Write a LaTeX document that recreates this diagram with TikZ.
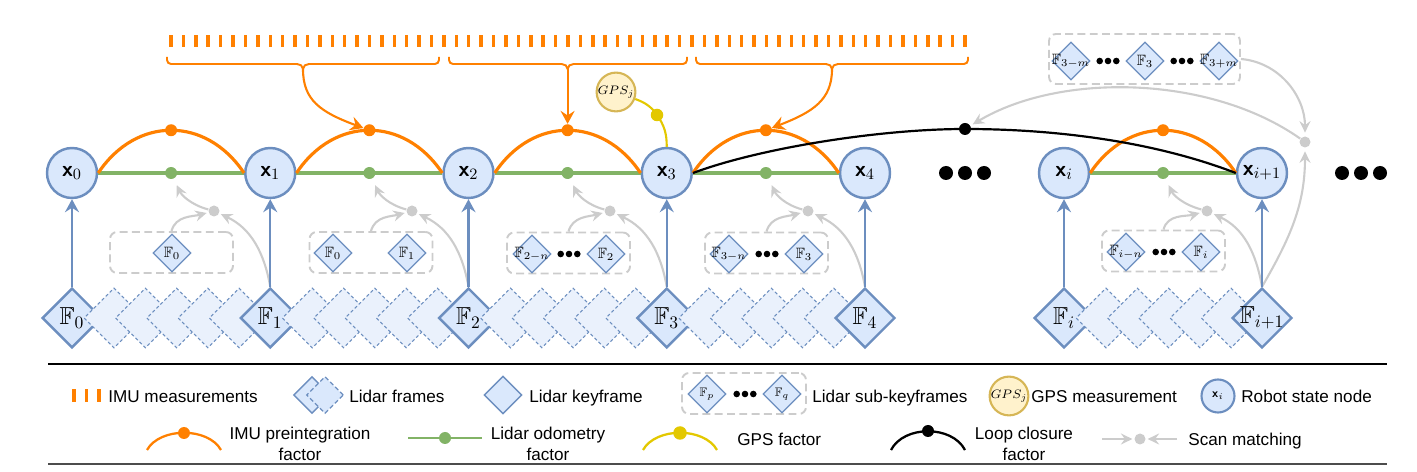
\documentclass[tikz,border=0pt]{standalone}
\usepackage{amsmath,amssymb}
\usepackage{fontspec}
\newfontfamily\lsans{Liberation Sans}
\usetikzlibrary{arrows.meta,shapes.geometric}
\definecolor{nblue}{HTML}{6C8EBF}
\definecolor{nfill}{HTML}{DAE8FC}
\definecolor{ffill}{HTML}{EAF1FC}
\definecolor{oran}{HTML}{FF8000}
\definecolor{grn}{HTML}{82B366}
\definecolor{gpsfill}{HTML}{FFF2CC}
\definecolor{gpsdraw}{HTML}{D6B656}
\definecolor{ylw}{HTML}{E3C800}
\definecolor{sgray}{HTML}{CCCCCC}
\newcommand{\tdots}[4]{\foreach \q in {-1,0,1}{\fill ({#1+\q*#4},#2) circle[radius=#3];}}
\newcommand{\imubrace}[3]{\draw[obr] (#1,57) -- (#1,60) to[out=-90,in=180] ({#1+4},64) -- ({#2-6},64) to[out=0,in=90] (#2,69) to[out=90,in=180] ({#2+6},64) -- ({#3-4},64) to[out=0,in=-90] (#3,60) -- (#3,57);}
\tikzset{
 st/.style={circle,draw=nblue,fill=nfill,line width=1.4pt,minimum size=1cm,inner sep=0pt,font=\fontsize{12.5}{14}\selectfont},
 kf/.style={diamond,draw=nblue,fill=nfill,line width=1.4pt,minimum width=1.2cm,minimum height=1.2cm,inner sep=0pt},
 kl/.style={font=\fontsize{14}{16}\selectfont,inner sep=0pt},
 fr/.style={diamond,draw=nblue,fill=ffill,line width=0.6pt,dash pattern=on 1.8pt off 1.4pt,minimum width=1.2cm,minimum height=1.2cm,inner sep=0pt},
 sk/.style={diamond,draw=nblue,fill=nfill,line width=0.7pt,minimum width=0.76cm,minimum height=0.76cm,inner sep=0pt},
 sl/.style={font=\fontsize{8.5}{9}\selectfont,inner sep=0pt},
 sbox/.style={draw=sgray,line width=1.1pt,dash pattern=on 4.5pt off 2.5pt,rounded corners=4pt,minimum width=2.46cm,minimum height=0.82cm,inner sep=0pt},
 odot/.style={circle,fill=oran,minimum size=0.24cm,inner sep=0pt},
 gdot/.style={circle,fill=grn,minimum size=0.24cm,inner sep=0pt},
 ydot/.style={circle,fill=ylw,minimum size=0.25cm,inner sep=0pt},
 kdot/.style={circle,fill=black,minimum size=0.24cm,inner sep=0pt},
 sdot/.style={circle,fill=sgray,minimum size=0.22cm,inner sep=0pt},
 gline/.style={draw=grn,line width=1.8pt},
 oarc/.style={draw=oran,line width=1.8pt},
 lcl/.style={draw=black,line width=1.25pt},
 yl/.style={draw=ylw,line width=1.2pt},
 sarr/.style={draw=sgray,line width=1.2pt,-{Stealth[length=2.3mm,width=2.2mm,inset=0.8mm]}},
 barr/.style={draw=nblue,line width=1.3pt,-{Stealth[length=2.6mm,width=2.8mm,inset=0.9mm]}},
 oarr/.style={draw=oran,line width=1.2pt,-{Stealth[length=2.6mm,width=2.8mm,inset=0.9mm]}},
 obr/.style={draw=oran,line width=1.1pt},
 gpsn/.style={circle,draw=gpsdraw,fill=gpsfill,line width=1.2pt,minimum size=0.64cm,inner sep=0pt,font=\fontsize{7}{8}\selectfont},
 lt/.style={font=\lsans\fontsize{9.75}{11.9}\selectfont,inner sep=0pt},
}
\begin{document}
\begin{tikzpicture}[x=0.02cm,y=-0.02cm]
\useasboundingbox (0,0) rectangle (1417,472);

% IMU ticks
\foreach \i in {0,...,64}{\fill[oran] ({169.25+\i*12.406},35) rectangle ++(3.5,12);}
\imubrace{167}{303}{439}
\imubrace{449}{567.6}{687}
\imubrace{696}{832}{968}
\coordinate (b1) at (303,69);
\coordinate (b2) at (567.6,69);
\coordinate (b3) at (832,69);

% keyframes and frames
\node[kf,label={[kl]center:$\mathbb{F}_0$}] (F0) at (72,318) {};
\foreach \k in {0,...,4}{\node[fr] (d0-\k) at ({72+42+\k*31.3},318) {};}
\node[kf,label={[kl]center:$\mathbb{F}_1$}] (F1) at (270.25,318) {};
\foreach \k in {0,...,4}{\node[fr] (d1-\k) at ({270.25+42+\k*31.3},318) {};}
\node[kf,label={[kl]center:$\mathbb{F}_2$}] (F2) at (468.5,318) {};
\foreach \k in {0,...,4}{\node[fr] (d2-\k) at ({468.5+42+\k*31.3},318) {};}
\node[kf,label={[kl]center:$\mathbb{F}_3$}] (F3) at (666.75,318) {};
\foreach \k in {0,...,4}{\node[fr] (d3-\k) at ({666.75+42+\k*31.3},318) {};}
\node[kf,label={[kl]center:$\mathbb{F}_4$}] (F4) at (865,318) {};
\node[kf,label={[kl]center:$\mathbb{F}_i$}] (Fi) at (1064,318) {};
\foreach \k in {0,...,4}{\node[fr] (d5-\k) at ({1064+42+\k*31.3},318) {};}
\node[kf,label={[kl]center:$\mathbb{F}_{i+1}$}] (Fi1) at (1262,318) {};

% state nodes
\node[st] (x0) at (72,173) {$\textsf{\textbf{x}}_0$};
\node[st] (x1) at (270.25,173) {$\textsf{\textbf{x}}_1$};
\node[st] (x2) at (468.5,173) {$\textsf{\textbf{x}}_2$};
\node[st] (x3) at (666.75,173) {$\textsf{\textbf{x}}_3$};
\node[st] (x4) at (865,173) {$\textsf{\textbf{x}}_4$};
\node[st] (xi) at (1064,173) {$\textsf{\textbf{x}}_i$};
\node[st] (xi1) at (1262,173) {$\textsf{\textbf{x}}_{i+1}$};
\tdots{965}{173}{0.14cm}{19}
\tdots{1361}{173}{0.14cm}{19}

% sub-keyframe boxes
\node[sbox] (B1) at (171.5,252.5) {};
\node[sk,label={[sl]center:$\mathbb{F}_0$}] (s1a) at (172,253) {};
\node[sbox] (B2) at (371,252.5) {};
\node[sk,label={[sl]center:$\mathbb{F}_0$}] (s2a) at (333,253) {};
\node[sk,label={[sl]center:$\mathbb{F}_1$}] (s2b) at (407,253) {};
\node[sbox] (B3) at (568.5,253) {};
\node[sk,label={[sl]center:$\mathbb{F}_{2-n}$}] (s3a) at (532,254) {};
\tdots{569}{254}{0.066cm}{8.3}
\node[sk,label={[sl]center:$\mathbb{F}_2$}] (s3b) at (606,254) {};
\node[sbox] (B4) at (766.5,253) {};
\node[sk,label={[sl]center:$\mathbb{F}_{3-n}$}] (s4a) at (729,254) {};
\tdots{767}{254}{0.066cm}{8.3}
\node[sk,label={[sl]center:$\mathbb{F}_3$}] (s4b) at (804,254) {};
\node[sbox] (B5) at (1163.5,251) {};
\node[sk,label={[sl]center:$\mathbb{F}_{i-n}$}] (s5a) at (1126,252) {};
\tdots{1164}{252}{0.066cm}{8.3}
\node[sk,label={[sl]center:$\mathbb{F}_i$}] (s5b) at (1201,252) {};
\node[sbox,minimum width=3.82cm,minimum height=1cm] (T) at (1144.5,59) {};
\node[sk,label={[sl]center:$\mathbb{F}_{3-m}$}] (t1) at (1071,61) {};
\tdots{1108}{61}{0.066cm}{8.3}
\node[sk,label={[sl]center:$\mathbb{F}_3$}] (t2) at (1145,61) {};
\tdots{1182}{61}{0.066cm}{8.3}
\node[sk,label={[sl]center:$\mathbb{F}_{3+m}$}] (t3) at (1219,61) {};

% odometry lines and IMU arcs
\draw[gline] (x0) -- (x1);
\draw[gline] (x1) -- (x2);
\draw[gline] (x2) -- (x3);
\draw[gline] (x3) -- (x4);
\draw[gline] (xi) -- (xi1);
\draw[oarc] (x0.east) .. controls +(38,-57) and +(-38,-57) .. (x1.west);
\draw[oarc] (x1.east) .. controls +(38,-57) and +(-38,-57) .. (x2.west);
\draw[oarc] (x2.east) .. controls +(38,-57) and +(-38,-57) .. (x3.west);
\draw[oarc] (x3.east) .. controls +(38,-57) and +(-38,-57) .. (x4.west);
\draw[oarc] (xi.east) .. controls +(38,-57) and +(-38,-57) .. (xi1.west);

% loop closure
\coordinate (lcc) at (965,129);
\draw[lcl] (x3.east) .. controls (760,148) and (880,129) .. (lcc) .. controls (1050,129) and (1150,140) .. (xi1.west);
\node[kdot] (lcd) at (lcc) {};

\node[gdot] (g0) at (171.1,173) {};
\node[gdot] (g1) at (369.4,173) {};
\node[gdot] (g2) at (567.6,173) {};
\node[gdot] (g3) at (765.9,173) {};
\node[gdot] (g5) at (1163,173) {};
\node[odot] (o0) at (171.1,130.25) {};
\node[odot] (o1) at (369.4,130.25) {};
\node[odot] (o2) at (567.6,130.25) {};
\node[odot] (o3) at (765.9,130.25) {};
\node[odot] (o5) at (1163,130.25) {};

% IMU arrows
\draw[oarr] (b1) .. controls (303,100) and (320,112) .. (o1);
\draw[oarr] (b2) -- (o2);
\draw[oarr] (b3) .. controls (832,100) and (813,112) .. (o3);

% GPS
\node[gpsn] (gps) at (616,92) {$GPS_j$};
\coordinate (ydc) at (657,115);
\draw[yl] (gps) to[out=-20,in=125] (ydc) to[out=-55,in=90] (x3);
\node[ydot] (yd) at (ydc) {};

% scan matching
\node[sdot] (m0) at (214,211) {};
\node[sdot] (m1) at (412,211) {};
\node[sdot] (m2) at (610,211) {};
\node[sdot] (m3) at (808,211) {};
\node[sdot] (m5) at (1207,211) {};
\node[sdot] (gbig) at (1305,142) {};
\foreach \m/\g/\b/\f in {m0/g0/B1/F1, m1/g1/B2/F2, m2/g2/B3/F3, m3/g3/B4/F4, m5/g5/B5/Fi1}{
 \draw[sarr,shorten >=4pt] (\m) to[out=165,in=-65] (\g);
 \draw[sarr,shorten >=1pt] (\b.north) to[out=75,in=195] (\m);
 \draw[sarr,shorten >=1pt] (\f.north) to[out=100,in=-25] (\m);
}
\draw[sarr,shorten >=2pt] (T.east) to[out=-5,in=90] (gbig);
\draw[sarr,shorten >=2pt] (Fi1.north) to[out=60,in=-90] (gbig);
\draw[sarr,shorten >=1.5pt] (gbig) .. controls (1210,75) and (1060,72) .. (lcd);

% keyframe to state arrows
\draw[barr] (F0) -- (x0);
\draw[barr] (F1) -- (x1);
\draw[barr] (F2) -- (x2);
\draw[barr] (F3) -- (x3);
\draw[barr] (F4) -- (x4);
\draw[barr] (Fi) -- (xi);
\draw[barr] (Fi1) -- (xi1);

% legend
\draw[line width=0.7pt] (48,364) -- (1387,364);
\draw[line width=1.2pt,black!70] (48,464) -- (1387,464);
\foreach \t in {72.25,84.75,97.25}{\fill[oran] (\t,389) rectangle ++(3.5,13);}
\node[lt,anchor=base west] (L1) at (108,403) {IMU measurements};
\node[kf,line width=0.8pt,minimum width=0.74cm,minimum height=0.74cm] (L2a) at (312,395) {};
\node[fr,fill=nfill,line width=0.7pt,dash pattern=on 2.5pt off 1.5pt,minimum width=0.74cm,minimum height=0.74cm] (L2b) at (325,395) {};
\node[lt,anchor=base west] (L2) at (349,403) {Lidar frames};
\node[kf,line width=0.8pt,minimum width=0.76cm,minimum height=0.76cm] (L3a) at (503,395) {};
\node[lt,anchor=base west] (L3) at (529,403) {Lidar keyframe};
\node[sbox,minimum width=2.48cm,minimum height=0.82cm] (L4b) at (744,393.5) {};
\node[sk,label={[font=\fontsize{7}{8}\selectfont,inner sep=0pt]center:$\mathbb{F}_p$}] (L4p) at (707,394) {};
\tdots{745}{394}{0.066cm}{8.3}
\node[sk,label={[font=\fontsize{7}{8}\selectfont,inner sep=0pt]center:$\mathbb{F}_q$}] (L4q) at (782,394) {};
\node[lt,anchor=base west] (L4) at (812,403) {Lidar sub-keyframes};
\node[gpsn] (L5a) at (1009,396) {$GPS_j$};
\node[lt,anchor=base west] (L5) at (1031,403) {GPS measurement};
\node[st,line width=1.2pt,minimum size=0.66cm,font=\fontsize{7}{8}\selectfont] (L6a) at (1218,396) {$\textsf{\textbf{x}}_i$};
\node[lt,anchor=base west] (L6) at (1241,403) {Robot state node};

\draw[oran,line width=1.3pt] (147,450) .. controls (160,427) and (208,427) .. (221,450);
\node[odot] (L7d) at (184,433) {};
\node[lt,align=center] (L7) at (300,443.5) {IMU preintegration\\factor};
\draw[grn,line width=1.5pt] (408,438) -- (482,438);
\node[gdot] (L8d) at (445,438) {};
\node[lt,align=center] (L8) at (548,443.5) {Lidar odometry\\factor};
\draw[ylw,line width=1.3pt] (643,450) .. controls (656,427) and (704,427) .. (717,450);
\node[ydot,minimum size=0.27cm] (L9d) at (680,433) {};
\node[lt,anchor=base west] (L9) at (737,446) {GPS factor};
\draw[black,line width=1.3pt] (891,450) .. controls (904,425) and (952,425) .. (965,450);
\node[kdot] (L10d) at (928,431) {};
\node[lt,align=center] (L10) at (1024,443.5) {Loop closure\\factor};
\coordinate (sm1) at (1102,439);
\coordinate (sm2) at (1177,439);
\node[sdot] (L11d) at (1140,439) {};
\draw[sarr,shorten >=1pt] (sm1) -- (L11d);
\draw[sarr,shorten >=1pt] (sm2) -- (L11d);
\node[lt,anchor=base west] (L11) at (1188,446) {Scan matching};
\end{tikzpicture}
\end{document}
